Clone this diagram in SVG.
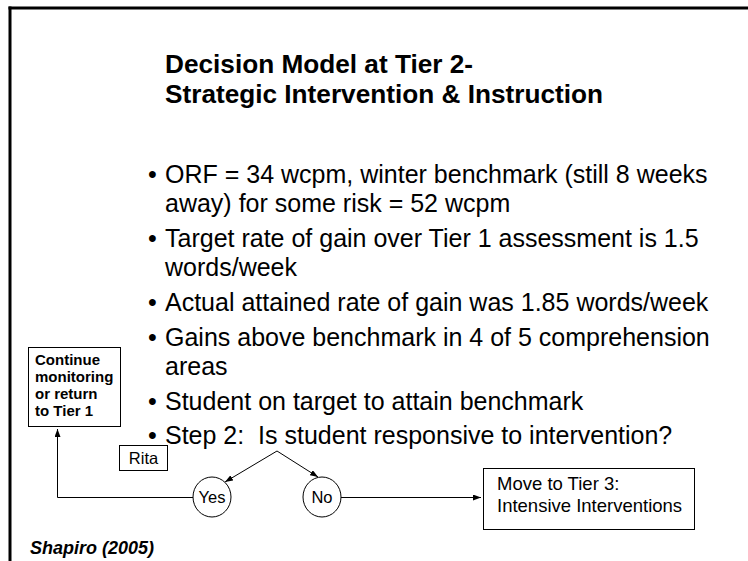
<svg xmlns="http://www.w3.org/2000/svg" width="748" height="561" viewBox="0 0 748 561">
<defs>
<style>
.t{font-family:"Liberation Sans",Arial,sans-serif;fill:#000}
.title{font-size:26.2px;font-weight:bold}
.b{font-size:25px}
.s{font-size:18.5px}
.yn{font-size:16.5px}
.cb{font-size:15px;font-weight:bold}
.box{fill:#fff;stroke:#000;stroke-width:1}
.ln{fill:none;stroke:#000;stroke-width:1}
</style>
<marker id="ah" viewBox="0 0 8 6" refX="8" refY="3" markerWidth="8" markerHeight="6" markerUnits="userSpaceOnUse" orient="auto">
<path d="M0,0 L8,3 L0,6 Z" fill="#000"/>
</marker>
</defs>
<rect x="0" y="0" width="748" height="561" fill="#fff"/>
<g id="frame">
<line x1="8.5" y1="8" x2="748" y2="8" stroke="#000" stroke-width="3"/>
<line x1="10" y1="6.5" x2="10" y2="561" stroke="#000" stroke-width="3"/>
</g>
<g id="title" class="t title">
<text x="165" y="73">Decision Model at Tier 2-</text>
<text x="165" y="103">Strategic Intervention &amp; Instruction</text>
</g>
<g id="bullets" class="t b">
<text x="148" y="183">•</text><text x="165" y="183">ORF = 34 wcpm, winter benchmark (still 8 weeks</text>
<text x="165" y="212">away) for some risk = 52 wcpm</text>
<text x="148" y="247">•</text><text x="165" y="247">Target rate of gain over Tier 1 assessment is 1.5</text>
<text x="165" y="276">words/week</text>
<text x="148" y="311">•</text><text x="165" y="311">Actual attained rate of gain was 1.85 words/week</text>
<text x="148" y="346">•</text><text x="165" y="346">Gains above benchmark in 4 of 5 comprehension</text>
<text x="165" y="375">areas</text>
<text x="148" y="410">•</text><text x="165" y="410">Student on target to attain benchmark</text>
<text x="148" y="444">•</text><text x="165" y="444" xml:space="preserve">Step 2:  Is student responsive to intervention?</text>
</g>
<g id="continue">
<rect class="box" x="28.5" y="347.5" width="92" height="79"/>
<g class="t cb">
<text x="35" y="365">Continue</text>
<text x="35" y="382">monitoring</text>
<text x="35" y="399">or return</text>
<text x="35" y="416">to Tier 1</text>
</g>
</g>
<g id="rita">
<rect class="box" x="119.5" y="445.5" width="48" height="25"/>
<text class="t yn" x="143.5" y="464" text-anchor="middle">Rita</text>
</g>
<g id="yes">
<ellipse class="box" cx="212" cy="497" rx="19" ry="20"/>
<text class="t yn" x="212" y="503" text-anchor="middle">Yes</text>
</g>
<g id="no">
<ellipse class="box" cx="322" cy="497" rx="19" ry="20"/>
<text class="t yn" x="322" y="503" text-anchor="middle">No</text>
</g>
<g id="tier3">
<rect class="box" x="483.5" y="468.5" width="211" height="61"/>
<g class="t s">
<text x="497" y="489.5">Move to Tier 3:</text>
<text x="497" y="512">Intensive Interventions</text>
</g>
</g>
<g id="connectors" class="ln">
<line x1="277" y1="451" x2="225" y2="482" marker-end="url(#ah)"/>
<line x1="277" y1="451" x2="318" y2="477" marker-end="url(#ah)"/>
<line x1="341" y1="497.5" x2="481" y2="497.5" marker-end="url(#ah)"/>
<polyline points="193,497.5 57.5,497.5 57.5,429" marker-end="url(#ah)"/>
</g>
<text id="source" class="t" x="30" y="554" font-size="18" font-weight="bold" font-style="italic">Shapiro (2005)</text>
</svg>
